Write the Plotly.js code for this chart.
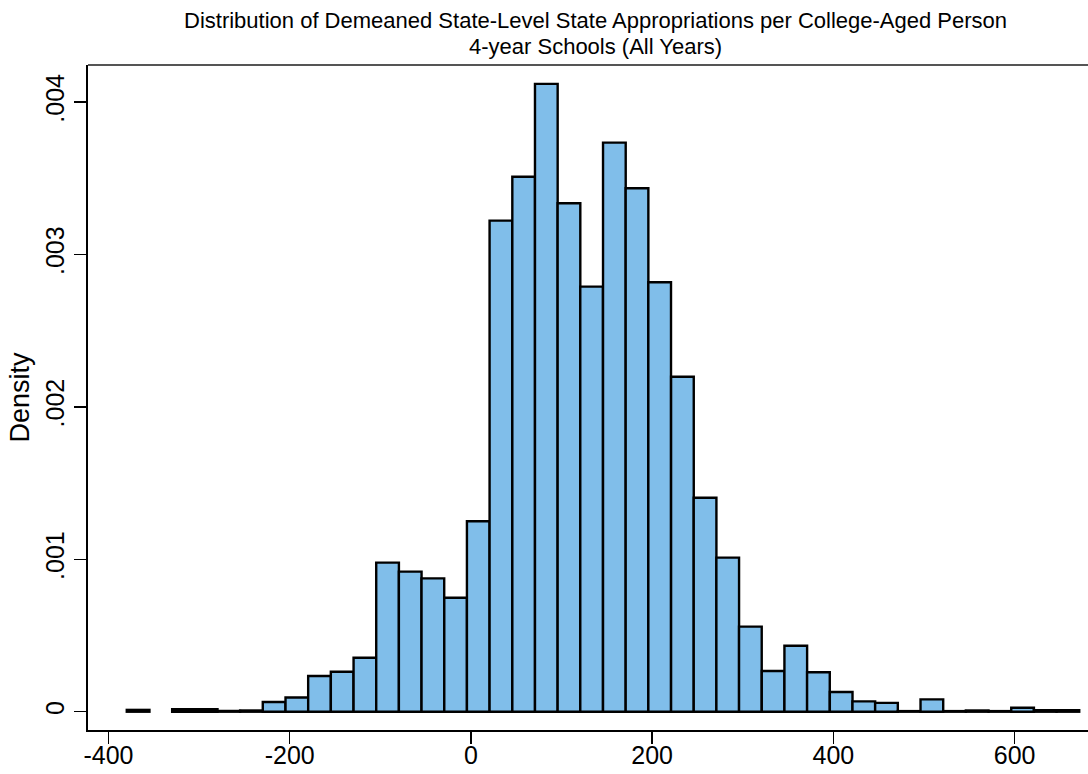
<!DOCTYPE html>
<html>
<head>
<meta charset="utf-8">
<script src="https://cdn.plot.ly/plotly-3.0.1.min.js"></script>
<style>html,body{margin:0;padding:0;background:#fff;}#chart{width:1088px;height:774px;}</style>
</head>
<body>
<div id="chart"></div>
<script>
// Bin centers (demeaned appropriations, $ per college-aged person)
const binCenters = [-367.3, -342.3, -317.2, -292.2, -267.2, -242.2, -217.2, -192.1, -167.1, -142.1,
  -117.0, -92.0, -67.0, -42.0, -16.9, 8.1, 33.1, 58.2, 83.2, 108.2,
  133.2, 158.3, 183.3, 208.3, 233.4, 258.4, 283.4, 308.4, 333.5, 358.5,
  383.5, 408.6, 433.6, 458.6, 483.6, 508.7, 533.7, 558.7, 583.8, 608.8,
  633.8, 658.8];
const binWidth = 25.03;
// Density per bin
const density = [0.000012, null, 0.000016, 0.000016, 0.000005, 0.000008, 0.000064, 0.000093, 0.000234, 0.000262,
  0.000354, 0.000978, 0.000919, 0.000875, 0.000748, 0.00125, 0.003222, 0.003510, 0.004119, 0.003336,
  0.002789, 0.003734, 0.003434, 0.002818, 0.002198, 0.001404, 0.001011, 0.000558, 0.000267, 0.000433,
  0.000259, 0.000129, 0.000068, 0.000058, 0.000004, 0.000081, 0.000004, 0.000008, 0.000004, 0.000026,
  0.00001, 0.00001];
const xTickVals = [-400, -200, 0, 200, 400, 600];
const xTickText = ['-400', '-200', '0', '200', '400', '600'];
const yTickVals = [0, 0.001, 0.002, 0.003, 0.004];
const yTickText = ['0', '.001', '.002', '.003', '.004'];
const titleLine1 = 'Distribution of Demeaned State-Level State Appropriations per College-Aged Person';
const titleLine2 = '4-year Schools (All Years)';
const yTitle = 'Density';

const FONT = 'Liberation Sans, Arial, sans-serif';

const trace = {
  type: 'bar',
  x: binCenters,
  y: density,
  width: binWidth,
  marker: {color: 'rgb(128,190,234)', line: {color: '#000000', width: 2.4}},
  hoverinfo: 'x+y'
};

const layout = {
  width: 1088, height: 774,
  margin: {l: 88, r: 0, t: 65, b: 44, pad: 0},
  paper_bgcolor: '#ffffff', plot_bgcolor: '#ffffff',
  showlegend: false,
  bargap: 0,
  font: {family: FONT, color: '#000'},
  xaxis: {
    range: [-422.6, 681.0], showgrid: false, zeroline: false,
    showline: true, linecolor: '#000', linewidth: 2,
    ticks: 'outside', ticklen: 12, tickwidth: 1.5, tickcolor: '#000',
    tickvals: xTickVals, ticktext: xTickText,
    ticklabelstandoff: -10,
    tickfont: {size: 25, color: '#000'}
  },
  yaxis: {
    range: [-0.00012, 0.004243], showgrid: false, zeroline: false,
    showline: true, linecolor: '#000', linewidth: 2,
    ticks: 'outside', ticklen: 12, tickwidth: 1.5, tickcolor: '#000',
    tickvals: yTickVals, ticktext: yTickText, tickangle: -90,
    tickfont: {size: 25, color: '#000'},
    title: {text: yTitle, font: {size: 27, color: '#000'}, standoff: 4}
  },
  annotations: [
    {text: titleLine1, xref: 'paper', yref: 'paper', x: 0.507, y: 1, xanchor: 'center', yanchor: 'middle',
      yshift: 45, showarrow: false, font: {size: 22, family: FONT, color: '#000'}},
    {text: titleLine2, xref: 'paper', yref: 'paper', x: 0.507, y: 1, xanchor: 'center', yanchor: 'middle',
      yshift: 19, showarrow: false, font: {size: 22, family: FONT, color: '#000'}}
  ],
  shapes: [{type: 'line', xref: 'paper', yref: 'paper', x0: 0, x1: 1, y0: 1, y1: 1,
    line: {color: '#555', width: 2}}]
};

Plotly.newPlot('chart', [trace], layout, {displayModeBar: false, staticPlot: true});
</script>
</body>
</html>
